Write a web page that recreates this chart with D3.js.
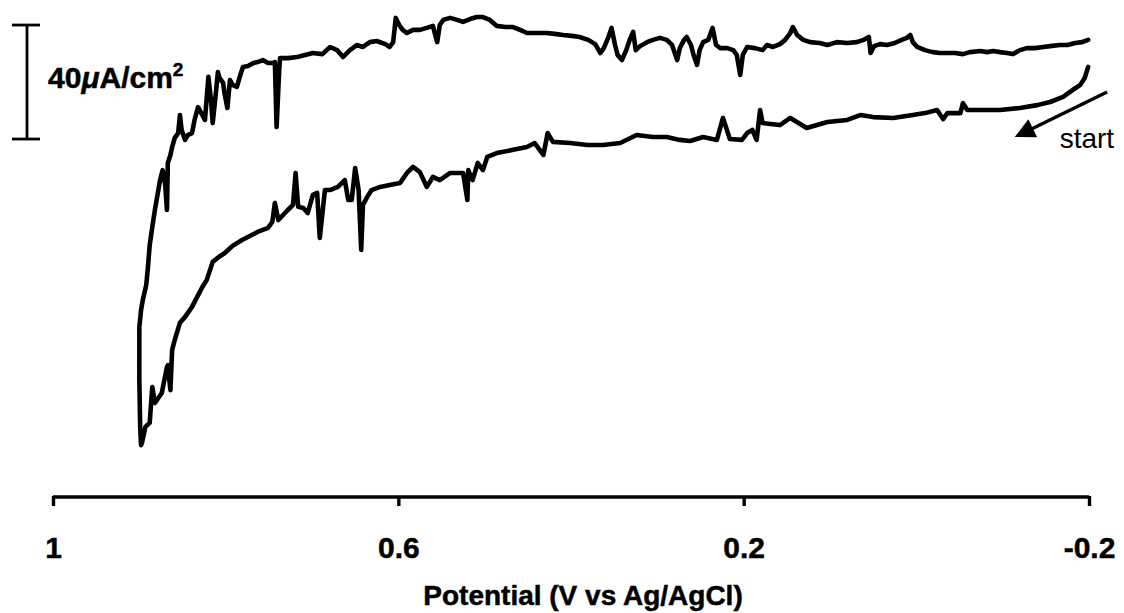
<!DOCTYPE html>
<html>
<head>
<meta charset="utf-8">
<script src="https://cdn.jsdelivr.net/npm/d3@7"></script>
<style>
  html, body { margin: 0; padding: 0; background: #fff; }
  svg { display: block; }
  text { font-family: "Liberation Sans", Arial, sans-serif; fill: #000; }
  text.heavy { stroke: #000; stroke-width: 0.5px; }
</style>
</head>
<body>
<svg id="chart" width="1124" height="613"></svg>
<script>
// Potential axis (V vs Ag/AgCl), plotted from +1 V on the left to -0.2 V on the right
const potentialTicks = [1, 0.6, 0.2, -0.2];
const tickLabels = ["1", "0.6", "0.2", "-0.2"];

// Forward sweep: starts at -0.2 V and runs toward positive potential (lower trace)
const forwardPotential = [
  -0.199, -0.195, -0.190, -0.181, -0.170, -0.155, -0.140, -0.120, -0.097, -0.074,
  -0.059, -0.054, -0.051, -0.036, -0.031, -0.024, -0.010, 0.004, 0.027, 0.050,
  0.065, 0.080, 0.103, 0.127, 0.146, 0.158, 0.169, 0.178, 0.181, 0.185,
  0.190, 0.196, 0.202, 0.216, 0.224, 0.231, 0.247, 0.262, 0.274, 0.289,
  0.305, 0.324, 0.343, 0.363, 0.381, 0.401, 0.421, 0.427, 0.432, 0.442,
  0.451, 0.467, 0.486, 0.497, 0.502, 0.508, 0.514, 0.519, 0.520, 0.525,
  0.540, 0.552, 0.560, 0.567, 0.575, 0.583, 0.590, 0.598, 0.610, 0.621,
  0.631, 0.636, 0.641, 0.643, 0.646, 0.650, 0.654, 0.658, 0.662, 0.670,
  0.679, 0.685, 0.691, 0.694, 0.699, 0.705, 0.710, 0.716, 0.719, 0.722,
  0.728, 0.739, 0.743, 0.746, 0.751, 0.763, 0.772, 0.781, 0.792, 0.801,
  0.808, 0.815, 0.822, 0.827, 0.833, 0.839, 0.847, 0.853, 0.859, 0.862,
  0.864, 0.867, 0.868, 0.874, 0.882, 0.885, 0.888, 0.893, 0.897
];
const forwardCurrent = [
  150.9, 147.0, 144.6, 142.8, 140.4, 138.6, 137.5, 136.5, 135.8, 135.8,
  135.8, 138.2, 134.7, 134.7, 132.6, 135.8, 134.7, 134.0, 133.0, 133.3,
  134.0, 132.3, 131.6, 129.5, 133.0, 130.5, 130.9, 131.2, 135.8, 125.3,
  128.8, 127.7, 125.3, 125.6, 133.0, 125.3, 126.3, 124.9, 125.3, 126.3,
  126.3, 127.0, 124.2, 123.5, 123.5, 124.2, 124.6, 127.7, 120.0, 124.2,
  122.8, 121.8, 120.7, 119.3, 114.7, 117.2, 111.2, 114.7, 104.2, 113.7,
  113.7, 111.2, 112.3, 108.8, 114.0, 115.8, 113.7, 110.2, 109.5, 108.8,
  107.7, 105.3, 102.5, 86.7, 107.7, 115.4, 104.2, 104.2, 111.2, 108.8,
  107.7, 107.7, 90.9, 106.7, 106.0, 99.6, 101.4, 101.8, 113.7, 102.5,
  100.7, 97.2, 103.2, 96.5, 94.4, 93.0, 91.6, 90.2, 88.1, 85.6,
  84.2, 82.5, 76.1, 73.7, 70.2, 66.7, 63.2, 61.1, 55.1, 51.6,
  37.5, 46.3, 45.6, 36.5, 33.0, 38.6, 26.0, 24.6, 18.9
];

// Reverse sweep: back from the positive limit to -0.2 V (upper trace)
const reversePotential = [
  0.898, 0.899, 0.900, 0.900, 0.898, 0.896, 0.892, 0.890, 0.888, 0.885,
  0.882, 0.878, 0.876, 0.873, 0.870, 0.868, 0.867, 0.864, 0.862, 0.859,
  0.855, 0.853, 0.851, 0.847, 0.844, 0.839, 0.836, 0.832, 0.827, 0.824,
  0.820, 0.817, 0.815, 0.811, 0.809, 0.807, 0.803, 0.801, 0.798, 0.795,
  0.792, 0.787, 0.783, 0.780, 0.774, 0.768, 0.763, 0.757, 0.751, 0.745,
  0.743, 0.741, 0.738, 0.737, 0.728, 0.717, 0.708, 0.699, 0.688, 0.679,
  0.671, 0.664, 0.656, 0.648, 0.641, 0.633, 0.625, 0.615, 0.610, 0.606,
  0.603, 0.599, 0.595, 0.590, 0.583, 0.575, 0.567, 0.560, 0.555, 0.552,
  0.548, 0.540, 0.532, 0.525, 0.517, 0.509, 0.502, 0.494, 0.486, 0.476,
  0.467, 0.459, 0.451, 0.439, 0.428, 0.419, 0.409, 0.399, 0.390, 0.380,
  0.372, 0.366, 0.362, 0.357, 0.353, 0.349, 0.346, 0.341, 0.336, 0.332,
  0.328, 0.325, 0.320, 0.312, 0.305, 0.297, 0.289, 0.283, 0.277, 0.274,
  0.269, 0.266, 0.261, 0.258, 0.254, 0.251, 0.247, 0.241, 0.236, 0.232,
  0.227, 0.219, 0.212, 0.208, 0.204, 0.201, 0.196, 0.187, 0.178, 0.173,
  0.166, 0.158, 0.152, 0.146, 0.143, 0.138, 0.131, 0.123, 0.112, 0.103,
  0.092, 0.080, 0.069, 0.061, 0.055, 0.053, 0.049, 0.042, 0.034, 0.025,
  0.017, 0.011, 0.007, 0.004, -0.001, -0.010, -0.019, -0.027, -0.036, -0.045,
  -0.054, -0.062, -0.074, -0.082, -0.089, -0.097, -0.105, -0.112, -0.120, -0.128,
  -0.137, -0.147, -0.155, -0.166, -0.175, -0.184, -0.192, -0.199
];
const reverseCurrent = [
  18.2, 24.6, 41.1, 59.6, 65.6, 69.1, 74.4, 80.7, 88.4, 94.7,
  100.7, 107.7, 111.2, 114.7, 109.5, 100.7, 117.2, 120.0, 122.8, 126.0,
  127.7, 134.0, 128.8, 125.3, 127.0, 127.7, 132.3, 136.8, 134.0, 132.3,
  147.4, 139.3, 131.2, 142.8, 149.1, 147.0, 145.3, 141.1, 136.5, 146.3,
  144.6, 143.9, 148.1, 150.9, 151.2, 152.3, 152.6, 153.3, 152.3, 152.3,
  152.6, 129.8, 149.8, 154.0, 154.0, 154.4, 155.1, 155.8, 155.4, 157.9,
  156.8, 154.4, 156.8, 158.6, 157.9, 159.6, 160.0, 158.9, 157.9, 159.6,
  168.1, 165.6, 163.9, 162.8, 163.9, 163.9, 164.6, 165.3, 159.6, 165.6,
  167.4, 168.1, 167.4, 166.7, 167.7, 168.4, 168.4, 167.4, 165.3, 164.9,
  164.9, 163.9, 162.8, 162.8, 162.8, 162.5, 162.1, 161.8, 161.4, 160.4,
  158.9, 155.8, 157.5, 161.1, 164.6, 158.6, 155.1, 153.3, 156.8, 160.4,
  163.2, 156.8, 158.2, 159.6, 160.4, 161.1, 160.4, 158.6, 153.3, 157.5,
  160.4, 161.4, 158.6, 155.1, 151.6, 156.8, 159.6, 160.4, 164.6, 158.6,
  157.5, 157.5, 156.8, 155.1, 148.1, 155.1, 157.9, 157.5, 156.8, 158.6,
  157.9, 158.9, 160.4, 162.8, 164.9, 162.1, 160.4, 159.6, 159.3, 158.6,
  159.6, 159.3, 159.6, 160.4, 161.4, 155.8, 158.2, 158.9, 158.6, 159.3,
  160.4, 161.1, 162.1, 159.6, 157.9, 156.8, 156.1, 155.8, 155.8, 155.8,
  155.4, 156.1, 156.5, 156.1, 156.5, 156.1, 155.8, 155.4, 156.8, 157.5,
  157.5, 157.9, 158.2, 158.6, 158.6, 159.3, 159.6, 160.4
];

// Scale bar for current density (µA/cm²)
const scaleBarSpan = 40;
const scaleBarBase = 125.6;

// Sweep-direction annotation, in data units
const arrowFrom = { potential: -0.221, current: 142.1 };
const arrowTo = { potential: -0.114, current: 126.3 };
const startLabelAt = { potential: -0.166, current: 122.4 };

const svg = d3.select("#chart");

const x = d3.scaleLinear().domain([1, -0.2]).range([53, 1089]);
const y = d3.scaleLinear().domain([0, 40]).range([497, 383]);

const line = d3.line()
  .x(d => x(d[0]))
  .y(d => y(d[1]));

const forward = d3.zip(forwardPotential, forwardCurrent);
const reverse = d3.zip(reversePotential, reverseCurrent);

svg.append("path")
  .datum(forward.concat(reverse))
  .attr("d", line)
  .attr("fill", "none")
  .attr("stroke", "#000")
  .attr("stroke-width", 4.6)
  .attr("stroke-linejoin", "round")
  .attr("stroke-linecap", "round");

// Potential axis
const axis = d3.axisBottom(x)
  .tickValues(potentialTicks)
  .tickFormat((d, i) => tickLabels[i])
  .tickSizeInner(9)
  .tickSizeOuter(0);

const gAxis = svg.append("g")
  .attr("transform", "translate(0,497)")
  .call(axis);

gAxis.select(".domain")
  .attr("stroke", "#000")
  .attr("stroke-width", 3.4)
  .attr("d", `M${x(1)},0H${x(-0.2)}`);

gAxis.selectAll(".tick line")
  .attr("stroke", "#000")
  .attr("stroke-width", 3.4)
  .attr("y1", -1);

gAxis.selectAll(".tick text")
  .attr("class", "heavy")
  .attr("y", 61)
  .attr("dy", null)
  .style("font-family", "'Liberation Sans', Arial, sans-serif")
  .style("font-size", "30px")
  .style("font-weight", "bold")
  .attr("fill", "#000");

svg.append("text")
  .attr("class", "heavy")
  .attr("x", (x(1) + x(-0.2)) / 2 + 12)
  .attr("y", 605)
  .attr("text-anchor", "middle")
  .style("font-size", "28px")
  .style("font-weight", "bold")
  .text("Potential (V vs Ag/AgCl)");

// Current scale bar with caps
const barX = 27;
const barTop = y(scaleBarBase + scaleBarSpan);
const barBottom = y(scaleBarBase);
const gBar = svg.append("g").attr("stroke", "#000").attr("stroke-width", 2.8);
gBar.append("line").attr("x1", barX).attr("x2", barX).attr("y1", barTop).attr("y2", barBottom);
gBar.append("line").attr("x1", barX - 15).attr("x2", barX + 13).attr("y1", barTop).attr("y2", barTop);
gBar.append("line").attr("x1", barX - 15).attr("x2", barX + 13).attr("y1", barBottom).attr("y2", barBottom);

const barLabel = svg.append("text")
  .attr("class", "heavy")
  .attr("x", 48)
  .attr("y", (barTop + barBottom) / 2 + 6)
  .style("font-size", "30px")
  .style("font-weight", "bold");
barLabel.append("tspan").text(scaleBarSpan);
barLabel.append("tspan").style("font-style", "italic").text("\u03BC");
barLabel.append("tspan").text("A/cm");
barLabel.append("tspan").attr("dy", -12).style("font-size", "19px").text("2");

// Sweep direction arrow
const ax0 = x(arrowFrom.potential), ay0 = y(arrowFrom.current);
const ax1 = x(arrowTo.potential), ay1 = y(arrowTo.current);
const ang = Math.atan2(ay1 - ay0, ax1 - ax0);
const headLen = 20, headHalf = 10;
const bx = ax1 - headLen * Math.cos(ang), by = ay1 - headLen * Math.sin(ang);
svg.append("line")
  .attr("x1", ax0).attr("y1", ay0)
  .attr("x2", bx + 2 * Math.cos(ang)).attr("y2", by + 2 * Math.sin(ang))
  .attr("stroke", "#000").attr("stroke-width", 3.4);
svg.append("polygon")
  .attr("points", [
    [ax1, ay1],
    [bx + headHalf * Math.sin(ang), by - headHalf * Math.cos(ang)],
    [bx - headHalf * Math.sin(ang), by + headHalf * Math.cos(ang)]
  ].map(p => p.join(",")).join(" "))
  .attr("fill", "#000");

svg.append("text")
  .attr("x", x(startLabelAt.potential))
  .attr("y", y(startLabelAt.current))
  .style("font-size", "28px")
  .text("start");
</script>
</body>
</html>
